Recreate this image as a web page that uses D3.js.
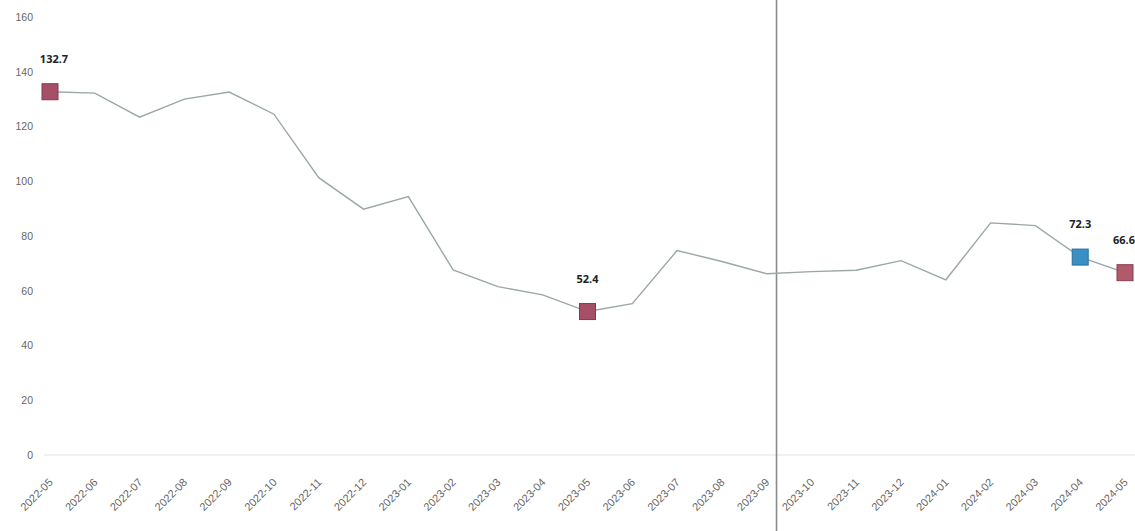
<!DOCTYPE html>
<html><head><meta charset="utf-8">
<script src="https://cdn.jsdelivr.net/npm/d3@7"></script>
<style>
html,body{margin:0;padding:0;background:#fff;}
svg{display:block;font-family:"Noto Sans","DejaVu Sans",sans-serif;}
</style></head>
<body><svg id="chart" width="1135" height="531"></svg>
<script>
const categories = ["2022-05","2022-06","2022-07","2022-08","2022-09","2022-10","2022-11","2022-12",
  "2023-01","2023-02","2023-03","2023-04","2023-05","2023-06","2023-07","2023-08","2023-09",
  "2023-10","2023-11","2023-12","2024-01","2024-02","2024-03","2024-04","2024-05"];
const values = [132.7,132.2,123.4,130.0,132.6,124.5,101.3,89.8,94.4,67.6,61.5,58.5,52.4,55.3,74.7,70.7,66.2,
  67.0,67.5,71.0,64.0,84.8,83.8,72.3,66.6];
const yTicks = [0,20,40,60,80,100,120,140,160];
const highlights = [
  {cat:"2022-05", label:"132.7", kind:"max"},
  {cat:"2023-05", label:"52.4", kind:"min"},
  {cat:"2024-04", label:"72.3", kind:"prev"},
  {cat:"2024-05", label:"66.6", kind:"last"}
];
const cursorCategory = "2023-09";

const svg = d3.select("#chart");
const x = d3.scalePoint().domain(categories).range([50, 1125]);
const y = d3.scaleLinear().domain([0,160]).range([455, 17]);

// baseline
svg.append("line").attr("x1",44).attr("x2",1135).attr("y1",y(0)).attr("y2",y(0))
  .attr("stroke","#e2e2e2").attr("stroke-width",1);

// y axis labels
const yAxis = d3.axisLeft(y).tickValues(yTicks).tickSize(0).tickPadding(0);
const gy = svg.append("g").attr("transform","translate(33,0)").call(yAxis);
gy.select(".domain").remove();
gy.selectAll("text").attr("fill","#666").style("font-size","10.5px");

// x axis labels
const xAxis = d3.axisBottom(x).tickSize(0).tickPadding(0);
const gx = svg.append("g").attr("transform",`translate(0,${y(0)})`).call(xAxis);
gx.select(".domain").remove();
gx.selectAll("text").attr("fill","#666").style("font-size","11px")
  .attr("text-anchor","end").attr("dy",0)
  .attr("transform","translate(3,28) rotate(-45)");

// cursor line
const step = x.step();
svg.append("line")
  .attr("x1", x(cursorCategory) + step*0.22).attr("x2", x(cursorCategory) + step*0.22)
  .attr("y1",0).attr("y2",531).attr("stroke","#8a8a8a").attr("stroke-width",1.6);

// line
const line = d3.line().x((d,i)=>x(categories[i])).y(d=>y(d));
svg.append("path").datum(values).attr("d",line).attr("fill","none")
  .attr("stroke","#9aa7a6").attr("stroke-width",1.4);

// markers
const colors = {max:["#a65068","#7e3a4e"], min:["#a65068","#7e3a4e"], prev:["#3a8fc4","#2a6f9c"], last:["#b05a6c","#8a3e50"]};
highlights.forEach(h=>{
  const v = values[categories.indexOf(h.cat)];
  const cx = x(h.cat), cy = y(v);
  svg.append("rect").attr("x",cx-8).attr("y",cy-8).attr("width",16).attr("height",16)
    .attr("fill",colors[h.kind][0]).attr("stroke",colors[h.kind][1]).attr("stroke-width",1);
  svg.append("text").attr("x",cx+ (h.kind==="max"?4:(h.kind==="last"?-1:0))).attr("y",cy-32)
    .attr("text-anchor","middle").attr("dominant-baseline","middle")
    .attr("fill","#222").style("font-size","11px").style("font-weight","bold").text(h.label);
});
</script></body></html>
